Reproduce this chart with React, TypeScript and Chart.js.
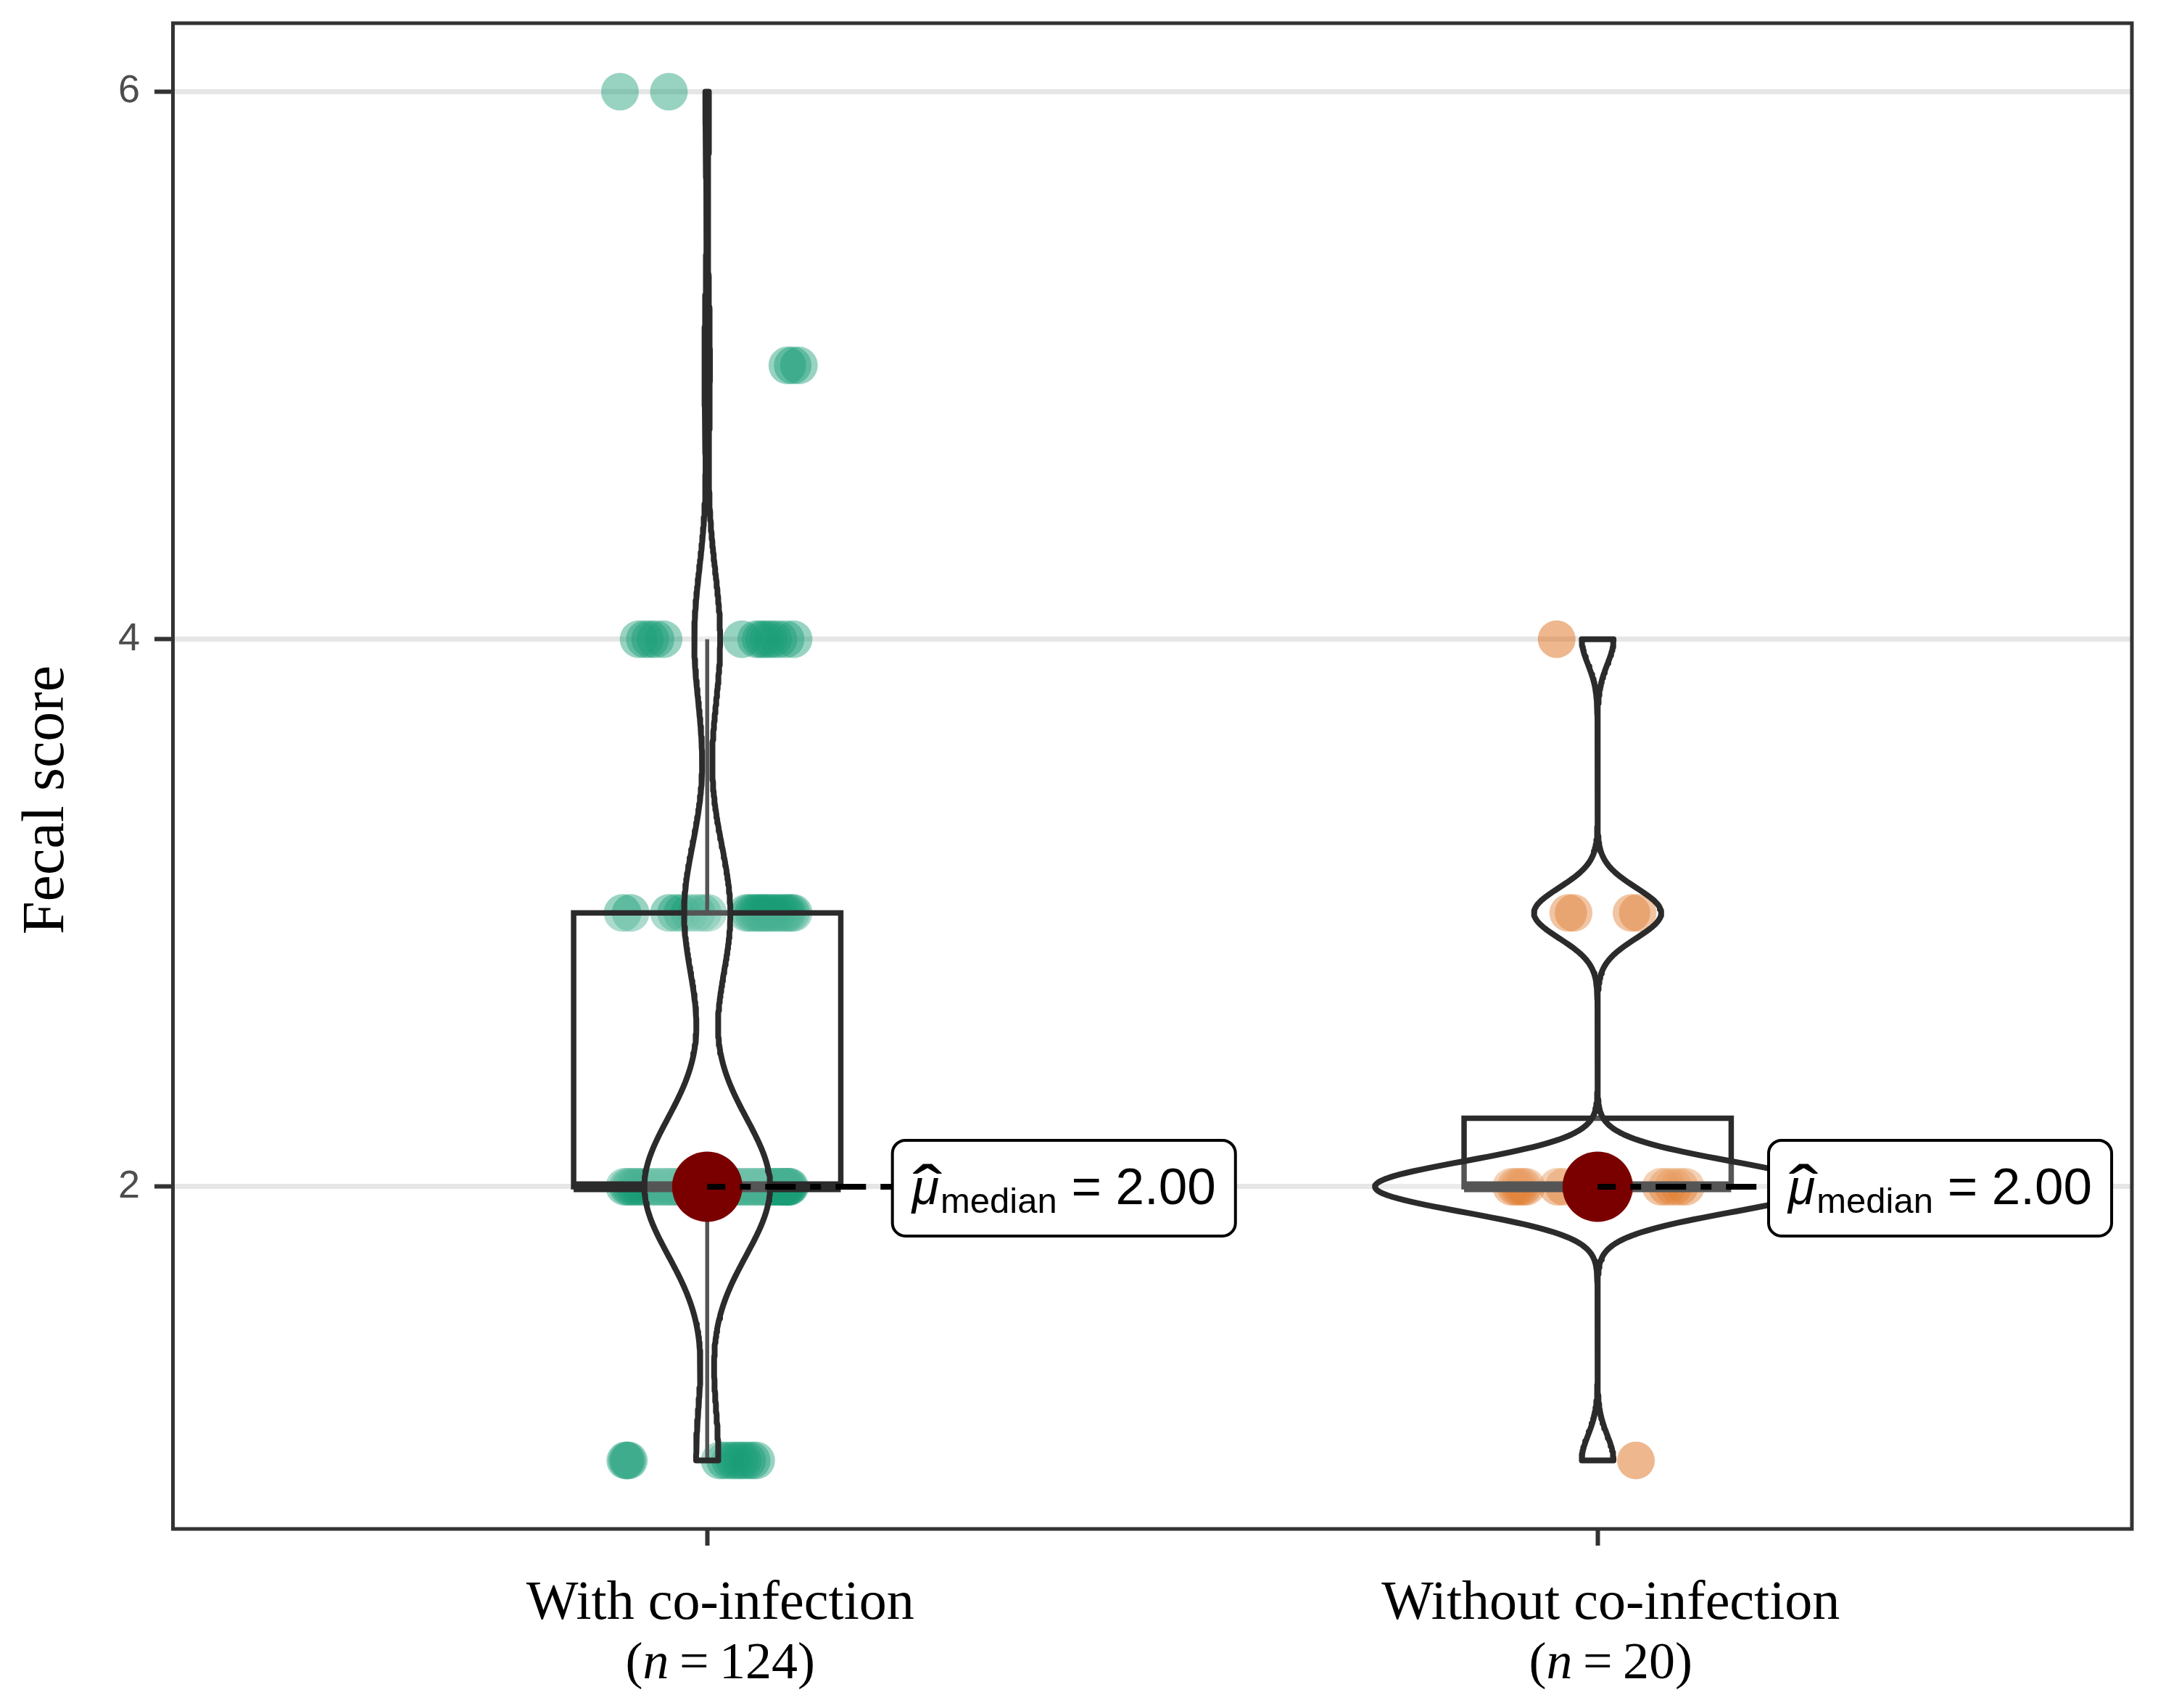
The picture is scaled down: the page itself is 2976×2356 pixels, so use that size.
import React, { useEffect, useRef } from 'react';
import { Chart, registerables } from 'chart.js';

Chart.register(...registerables);

// ---------------- data ----------------
const categories = ['With co-infection', 'Without co-infection'];
const sampleSizes = [124, 20];
const scoreLevels = [1, 2, 3, 4, 5, 6];
const yTickValues = [2, 4, 6];
const xTickValues = [1, 2];

// jittered horizontal offsets of every observation, one list per score level (1..6)
const jitterWith: number[][] = [
  [-0.092, -0.090, -0.088, 0.014, 0.020, 0.026, 0.031, 0.036, 0.040, 0.045, 0.050, 0.055],
  [
    -0.093, -0.089, -0.086, -0.082, -0.079, -0.075, -0.072, -0.067, -0.063, -0.060,
    -0.056, -0.052, -0.049, -0.045, -0.042, -0.039, -0.036, -0.033, -0.030, -0.027,
    -0.024, -0.021, -0.018, -0.015, -0.012, -0.009, -0.006, -0.003, 0.000, 0.003,
    0.006, 0.009, 0.012, 0.015, 0.018, 0.021, 0.024, 0.027, 0.030, 0.033,
    0.036, 0.039, 0.042, 0.045, 0.048, 0.051, 0.054, 0.057, 0.060, 0.062,
    0.065, 0.067, 0.070, 0.072, 0.074, 0.076, 0.078, 0.080, 0.082, 0.084,
    0.086, 0.087, 0.088, 0.089, 0.090, 0.091, 0.092, 0.093,
  ],
  [
    -0.095, -0.086, -0.043, -0.035, -0.028, -0.020, -0.012, -0.005, 0.001,
    0.044, 0.048, 0.052, 0.056, 0.059, 0.062, 0.065, 0.068, 0.072, 0.075, 0.079,
    0.083, 0.087, 0.090, 0.094, 0.097,
  ],
  [-0.077, -0.070, -0.064, -0.058, -0.049, 0.039, 0.055, 0.060, 0.064, 0.069, 0.074, 0.080, 0.088, 0.097],
  [0.090, 0.096, 0.103],
  [-0.098, -0.043],
];
const jitterWithout: number[][] = [
  [0.043],
  [-0.097, -0.092, -0.088, -0.084, -0.080, -0.045, -0.038, -0.010, 0.020, 0.071, 0.078, 0.085, 0.092, 0.099],
  [-0.033, -0.027, 0.038, 0.045],
  [-0.046],
  [],
  [],
];
// x position (category units) of the left edge of each median label
const labelLeftX = [1.208, 2.192];

// ---------------- styles ----------------
const pointColors = ['rgba(27,158,119,0.45)', 'rgba(217,95,2,0.45)'];
const lineDark = '#2b2b2b';
const SANS = '"Liberation Sans", Arial, sans-serif';
const SERIF = '"Liberation Serif", "Times New Roman", serif';

// ---------------- helpers ----------------
function valuesFrom(jit: number[][]): number[] {
  const v: number[] = [];
  jit.forEach((arr, li) => arr.forEach(() => v.push(scoreLevels[li])));
  return v;
}
function q7(s: number[], p: number) {
  const h = (s.length - 1) * p;
  const lo = Math.floor(h);
  const hi = Math.min(s.length - 1, lo + 1);
  return s[lo] + (h - lo) * (s[hi] - s[lo]);
}
function groupStats(values: number[]) {
  const s = [...values].sort((a, b) => a - b);
  const n = s.length;
  const q1 = q7(s, 0.25), med = q7(s, 0.5), q3 = q7(s, 0.75);
  const iqr = q3 - q1;
  const wLow = Math.min(...s.filter((v) => v >= q1 - 1.5 * iqr));
  const wHigh = Math.max(...s.filter((v) => v <= q3 + 1.5 * iqr));
  const mean = s.reduce((a, b) => a + b, 0) / n;
  const sd = Math.sqrt(s.reduce((a, b) => a + (b - mean) ** 2, 0) / (n - 1));
  const lo = Math.min(sd, iqr / 1.34);
  const bw = 0.9 * lo * Math.pow(n, -0.2);
  const min = s[0], max = s[n - 1];
  const grid: number[] = [];
  const dens: number[] = [];
  for (let k = 0; k < 512; k++) {
    const yy = min + (k * (max - min)) / 511;
    let d = 0;
    for (const v of s) {
      const u = (yy - v) / bw;
      d += Math.exp(-0.5 * u * u);
    }
    grid.push(yy);
    dens.push(d / (n * bw * Math.sqrt(2 * Math.PI)));
  }
  return { q1, med, q3, wLow, wHigh, grid, dens };
}

const groupsJitter = [jitterWith, jitterWithout];
const stats = groupsJitter.map((j) => groupStats(valuesFrom(j)));
const maxDensity = Math.max(...stats.map((s) => Math.max(...s.dens)));

function buildDatasets() {
  const ds: any[] = [];
  stats.forEach((g, i) => {
    const c = xTickValues[i];
    const pts: { x: number; y: number }[] = [];
    groupsJitter[i].forEach((arr, li) => arr.forEach((off) => pts.push({ x: c + off, y: scoreLevels[li] })));
    ds.push({
      type: 'scatter', data: pts, backgroundColor: pointColors[i], borderWidth: 0,
      pointRadius: 26, pointHoverRadius: 26, order: 10,
    });
    const lineBase = { type: 'line', pointRadius: 0, pointHoverRadius: 0, fill: false, borderColor: lineDark, borderCapStyle: 'butt', tension: 0 };
    if (g.wHigh > g.q3) {
      ds.push({ ...lineBase, data: [{ x: c, y: g.q3 }, { x: c, y: g.wHigh }], borderWidth: 5.5, order: 9 });
    }
    if (g.wLow < g.q1) {
      ds.push({ ...lineBase, data: [{ x: c, y: g.q1 }, { x: c, y: g.wLow }], borderWidth: 5.5, order: 9 });
    }
    const hb = 0.15;
    ds.push({
      ...lineBase,
      data: [
        { x: c, y: g.q3 }, { x: c + hb, y: g.q3 }, { x: c + hb, y: g.q1 },
        { x: c - hb, y: g.q1 }, { x: c - hb, y: g.q3 }, { x: c, y: g.q3 },
      ],
      borderWidth: 7.5, borderJoinStyle: 'miter', fill: 'shape', backgroundColor: 'rgba(255,255,255,0.2)', order: 8,
    });
    ds.push({ ...lineBase, data: [{ x: c - hb, y: g.med }, { x: c + hb, y: g.med }], borderWidth: 15, order: 7 });
    const right = g.grid.map((yy, k) => ({ x: c + (g.dens[k] / maxDensity) * 0.25, y: yy }));
    const left = g.grid.map((yy, k) => ({ x: c - (g.dens[k] / maxDensity) * 0.25, y: yy })).reverse();
    const violin = [{ x: c, y: g.grid[0] }, ...right, ...left, { x: c, y: g.grid[0] }];
    ds.push({
      ...lineBase, data: violin, borderWidth: 8, borderJoinStyle: 'round',
      fill: 'shape', backgroundColor: 'rgba(255,255,255,0.2)', order: 5,
    });
    ds.push({
      type: 'scatter', data: [{ x: c, y: g.med }], backgroundColor: '#7a0000', borderWidth: 0,
      pointRadius: 48.5, pointHoverRadius: 48.5, order: 1,
    });
  });
  return ds;
}

function drawMedianLabel(ctx: CanvasRenderingContext2D, bx: number, py: number, value: number) {
  const muFont = `italic 68px ${SANS}`;
  const subFont = `49px ${SANS}`;
  const mainFont = `71px ${SANS}`;
  ctx.font = muFont;
  const wMu = ctx.measureText('μ').width;
  ctx.font = subFont;
  const wSub = ctx.measureText('median').width;
  const rest = ' = ' + value.toFixed(2);
  ctx.font = mainFont;
  const wRest = ctx.measureText(rest).width;
  const padL = 27, padR = 27;
  const w = padL + wMu + 2 + wSub + wRest + padR;
  const top = py - 64, h = 132;
  ctx.save();
  ctx.beginPath();
  (ctx as any).roundRect(bx, top, w, h, 18);
  ctx.fillStyle = '#ffffff';
  ctx.fill();
  ctx.lineWidth = 4;
  ctx.strokeStyle = '#000000';
  ctx.stroke();
  const base = py + 24;
  let tx = bx + padL;
  ctx.fillStyle = '#000000';
  ctx.textAlign = 'left';
  ctx.textBaseline = 'alphabetic';
  ctx.font = muFont;
  ctx.fillText('μ', tx, base);
  ctx.save();
  ctx.translate(tx + wMu / 2 + 3, base + 14);
  ctx.scale(1.8, 1.4);
  ctx.font = `68px ${SANS}`;
  ctx.textAlign = 'center';
  ctx.fillText('ˆ', 0, 0);
  ctx.restore();
  tx += wMu + 2;
  ctx.font = subFont;
  ctx.fillText('median', tx, base + 12);
  tx += wSub;
  ctx.font = mainFont;
  ctx.fillText(rest, tx, base);
  ctx.restore();
}

const overlayPlugin = {
  id: 'overlay',
  afterDatasetsDraw(chart: any) {
    const { ctx } = chart;
    const xs = chart.scales.x, ys = chart.scales.y;
    stats.forEach((g, i) => {
      const px = xs.getPixelForValue(xTickValues[i]);
      const py = ys.getPixelForValue(g.med);
      const bx = xs.getPixelForValue(labelLeftX[i]);
      ctx.save();
      ctx.strokeStyle = '#000000';
      ctx.lineWidth = 8;
      ctx.setLineDash([42, 20, 15, 20]);
      ctx.lineDashOffset = 17;
      ctx.beginPath();
      ctx.moveTo(px, py);
      ctx.lineTo(bx, py);
      ctx.stroke();
      ctx.restore();
      drawMedianLabel(ctx, bx, py, g.med);
    });
  },
  afterDraw(chart: any) {
    const { ctx, chartArea } = chart;
    const xs = chart.scales.x, ys = chart.scales.y;
    ctx.save();
    // panel border
    ctx.strokeStyle = '#333333';
    ctx.lineWidth = 5;
    ctx.strokeRect(chartArea.left, chartArea.top, chartArea.right - chartArea.left, chartArea.bottom - chartArea.top);
    // x labels
    ctx.fillStyle = '#000000';
    ctx.textBaseline = 'alphabetic';
    categories.forEach((cat, i) => {
      const cx = xs.getPixelForValue(xTickValues[i]) + 18;
      ctx.textAlign = 'center';
      ctx.font = `76px ${SERIF}`;
      ctx.fillText(cat, cx, chartArea.bottom + 124);
      const parts = [
        { t: '(', f: `72px ${SERIF}` },
        { t: 'n', f: `italic 72px ${SERIF}` },
        { t: '\u2009=\u2009', f: `72px ${SERIF}` },
        { t: String(sampleSizes[i]), f: `72px ${SERIF}` },
        { t: ')', f: `72px ${SERIF}` },
      ];
      let total = 0;
      const widths = parts.map((p) => {
        ctx.font = p.f;
        const w = ctx.measureText(p.t).width;
        total += w;
        return w;
      });
      let tx = cx - total / 2;
      ctx.textAlign = 'left';
      parts.forEach((p, k) => {
        ctx.font = p.f;
        ctx.fillText(p.t, tx, chartArea.bottom + 206);
        tx += widths[k];
      });
    });
    // y title
    ctx.save();
    ctx.translate(87, ys.getPixelForValue(3.5) + 33);
    ctx.rotate(-Math.PI / 2);
    ctx.textAlign = 'center';
    ctx.font = `82px ${SERIF}`;
    ctx.fillText('Fecal score', 0, 0);
    ctx.restore();
    ctx.restore();
  },
};

export default function App() {
  const ref = useRef<HTMLCanvasElement>(null);
  useEffect(() => {
    document.body.style.margin = '0';
    document.body.style.overflow = 'hidden';
    const canvas = ref.current!;
    const chart = new Chart(canvas, {
      type: 'scatter',
      data: { datasets: buildDatasets() },
      options: {
        animation: false,
        responsive: false,
        devicePixelRatio: 1,
        events: [],
        layout: { autoPadding: false, padding: { top: 32, right: 36, left: 0, bottom: 0 } },
        plugins: { legend: { display: false }, tooltip: { enabled: false } },
        scales: {
          x: {
            type: 'linear', min: 0.4, max: 2.6,
            afterBuildTicks: (s: any) => { s.ticks = xTickValues.map((v) => ({ value: v })); },
            afterFit: (s: any) => {
              s.height = 247;
              s.paddingLeft = 0; s.paddingRight = 0; s.paddingTop = 0; s.paddingBottom = 0;
            },
            grid: { drawOnChartArea: false, drawTicks: true, tickLength: 23, tickColor: '#333333', tickWidth: 6, color: '#333333' },
            border: { display: false },
            ticks: { display: false },
          },
          y: {
            type: 'linear', min: 0.75, max: 6.25,
            afterBuildTicks: (s: any) => { s.ticks = yTickValues.map((v) => ({ value: v })); },
            afterFit: (s: any) => {
              s.width = 238.5;
              s.paddingLeft = 0; s.paddingRight = 0; s.paddingTop = 0; s.paddingBottom = 0;
            },
            grid: { color: '#e6e6e6', lineWidth: 7, drawTicks: true, tickLength: 25.5, tickColor: '#333333', tickWidth: 6 },
            border: { display: false },
            ticks: { font: { family: 'Liberation Sans', size: 54 }, color: '#4d4d4d', padding: 20 },
          },
        },
      } as any,
      plugins: [overlayPlugin],
    });
    return () => chart.destroy();
  }, []);
  return (
    <div style={{ width: 2976, height: 2356 }}>
      <canvas ref={ref} width={2976} height={2356} style={{ display: 'block', width: 2976, height: 2356 }} />
    </div>
  );
}
